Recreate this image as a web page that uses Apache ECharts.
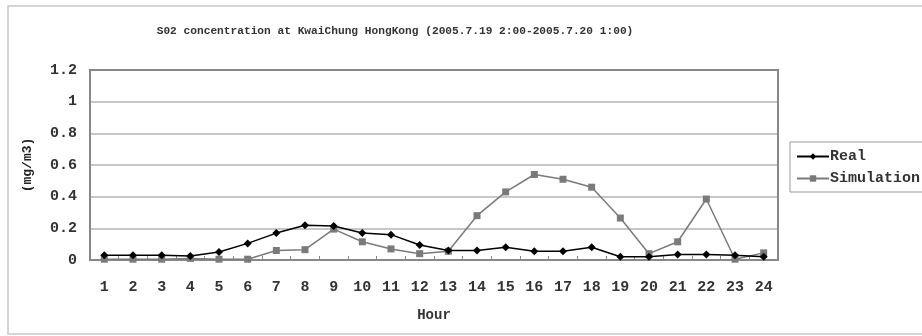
<!DOCTYPE html>
<html>
<head>
<meta charset="utf-8">
<script src="https://cdn.jsdelivr.net/npm/echarts@6/dist/echarts.min.js"></script>
<style>
  html, body { margin: 0; padding: 0; background: #fff; }
  #chart { width: 922px; height: 336px; }
</style>
</head>
<body>
<div id="chart"></div>
<script>
// Hourly SO2 concentration, KwaiChung, 2005-07-19 02:00 to 2005-07-20 01:00
var hours = ['1','2','3','4','5','6','7','8','9','10','11','12','13','14','15','16','17','18','19','20','21','22','23','24'];
var realValues = [0.03, 0.03, 0.03, 0.025, 0.05, 0.105, 0.17, 0.22, 0.215, 0.17, 0.16, 0.095, 0.06, 0.06, 0.08, 0.055, 0.055, 0.08, 0.02, 0.02, 0.035, 0.035, 0.03, 0.02];
var simValues = [0.005, 0.005, 0.005, 0.01, 0.005, 0.005, 0.06, 0.065, 0.195, 0.115, 0.07, 0.04, 0.055, 0.28, 0.43, 0.54, 0.51, 0.46, 0.265, 0.04, 0.115, 0.385, 0.005, 0.045];
var yTicks = [0, 0.2, 0.4, 0.6, 0.8, 1.0, 1.2];

var FONT = '"Liberation Mono", "DejaVu Sans Mono", monospace';

var chart = echarts.init(document.getElementById('chart'), null, { renderer: 'canvas' });
chart.setOption({
  backgroundColor: '#ffffff',
  animation: false,
  graphic: [{
    type: 'rect',
    shape: { x: 8, y: 6, width: 930, height: 328 },
    style: { fill: 'none', stroke: '#c8c8c8', lineWidth: 1.5 },
    silent: true
  }, {
    type: 'rect',
    shape: { x: 90, y: 70, width: 688, height: 190 },
    style: { fill: 'none', stroke: '#888888', lineWidth: 2 },
    silent: true,
    z: 1
  }],
  title: {
    text: 'S02 concentration at KwaiChung HongKong (2005.7.19 2:00-2005.7.20 1:00)',
    left: 390,
    textAlign: 'center',
    top: 21,
    textStyle: { fontFamily: FONT, fontSize: 11.2, fontWeight: 'bold', color: '#333' }
  },
  legend: {
    left: 790,
    top: 142,
    orient: 'vertical',
    itemWidth: 32,
    itemHeight: 8,
    itemGap: 7,
    padding: [7, 4, 6, 6],
    borderColor: '#999',
    borderWidth: 1,
    textStyle: { fontFamily: FONT, fontSize: 15, fontWeight: 'bold', color: '#333', padding: [0, 0, 0, -4] },
    data: ['Real', 'Simulation']
  },
  grid: { left: 90, right: 144, top: 70, bottom: 76, containLabel: false },
  xAxis: {
    type: 'category',
    data: hours,
    boundaryGap: true,
    name: 'Hour',
    nameLocation: 'middle',
    nameGap: 48,
    nameTextStyle: { fontFamily: FONT, fontSize: 14, fontWeight: 'bold', color: '#333' },
    axisLine: { lineStyle: { color: '#888', width: 2 } },
    axisTick: { show: true, inside: true, length: 4, lineStyle: { color: '#888' } },
    axisLabel: { fontFamily: FONT, fontSize: 15, fontWeight: 'bold', color: '#333', margin: 20 },
    splitLine: { show: false }
  },
  yAxis: {
    type: 'value',
    min: yTicks[0],
    max: yTicks[yTicks.length - 1],
    interval: 0.2,
    name: '(mg/m3)',
    nameLocation: 'middle',
    nameGap: 56,
    nameRotate: 90,
    nameTextStyle: { fontFamily: FONT, fontSize: 13, color: '#222', fontWeight: 'bold' },
    axisLine: { show: true, lineStyle: { color: '#888', width: 2 } },
    axisTick: { show: false },
    axisLabel: {
      fontFamily: FONT, fontSize: 15, fontWeight: 'bold', color: '#333', margin: 13,
      formatter: function (v) { return v === 0 ? '0' : (Math.abs(v - 1) < 1e-9 ? '1' : v.toFixed(1)); }
    },
    splitLine: { show: true, lineStyle: { color: '#b4b4b4', width: 1.5 } }
  },
  series: [{
    name: 'Real',
    type: 'line',
    data: realValues,
    symbol: 'diamond',
    symbolSize: 8,
    z: 3,
    itemStyle: { color: '#000000' },
    lineStyle: { color: '#000000', width: 1.5 }
  }, {
    name: 'Simulation',
    type: 'line',
    data: simValues,
    symbol: 'rect',
    symbolSize: 7,
    z: 2,
    itemStyle: { color: '#7a7a7a' },
    lineStyle: { color: '#7a7a7a', width: 1.5 }
  }]
});
</script>
</body>
</html>
